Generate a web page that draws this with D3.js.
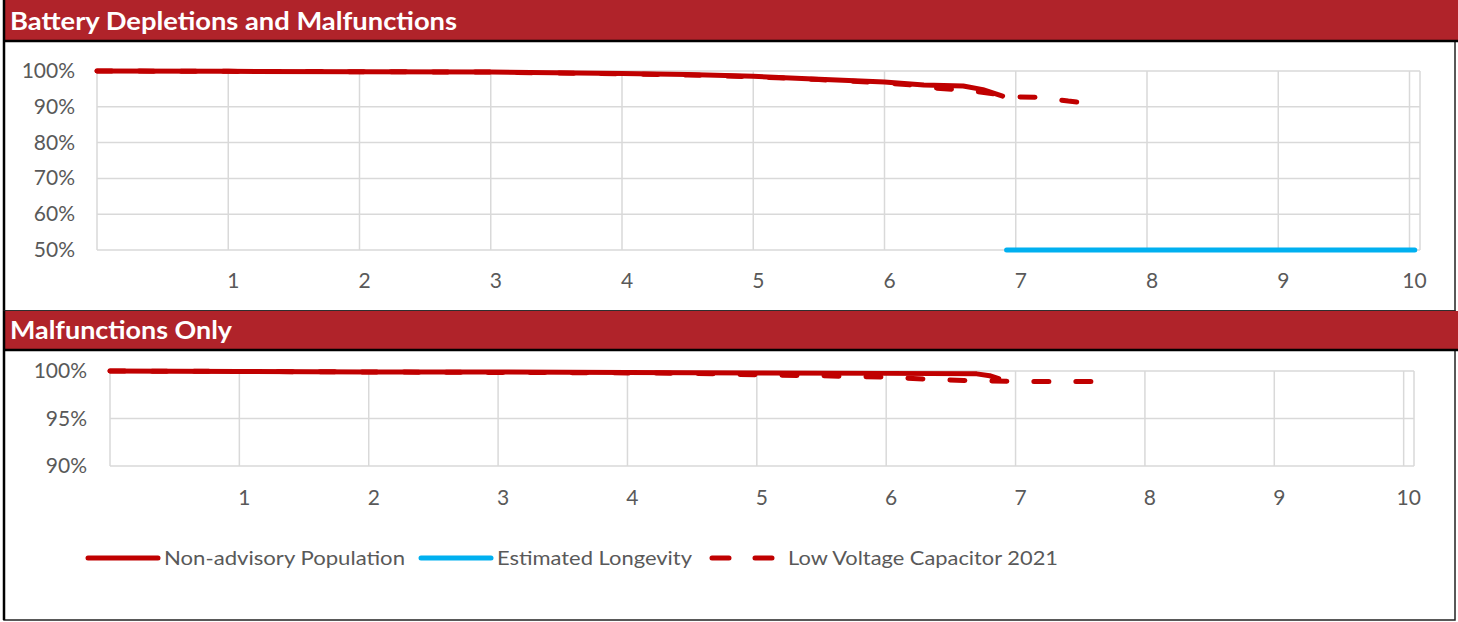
<!DOCTYPE html>
<html>
<head>
<meta charset="utf-8">
<script src="https://cdn.jsdelivr.net/npm/d3@7"></script>
<style>
  body { margin: 0; background: #fff; }
  svg { display: block; font-family: Lato, "Open Sans", sans-serif; }
</style>
</head>
<body>
<script>
// years since implant
var xTicks = [1, 2, 3, 4, 5, 6, 7, 8, 9, 10];

// panel 1: battery depletions and malfunctions (% survival)
var nonAdvisory1 = [[0, 100], [1, 99.9], [2, 99.8], [3, 99.7], [4, 99.3], [4.5, 99.0], [5, 98.5],
  [5.5, 97.7], [6, 96.9], [6.3, 96.1], [6.6, 95.8], [6.75, 94.8], [6.9, 93.0]];
var lvc1 = [[0, 100], [1, 99.9], [2, 99.8], [3, 99.7], [4, 99.2], [4.5, 98.9], [5, 98.4],
  [5.5, 97.6], [6, 96.7], [6.2, 96.1], [6.4, 95.2], [6.6, 94.7], [6.8, 93.8], [7.0, 92.8],
  [7.2, 92.6], [7.4, 91.6], [7.55, 91.0]];
var longevity1 = [[6.93, 50], [10.04, 50]];
var yTicks1 = [50, 60, 70, 80, 90, 100];

// panel 2: malfunctions only
var nonAdvisory2 = [[0, 100], [1, 99.95], [2, 99.9], [3, 99.9], [4, 99.85], [5, 99.8], [6, 99.75],
  [6.7, 99.7], [6.8, 99.5], [6.87, 99.2]];
var lvc2 = [[0, 100], [2, 99.9], [4, 99.8], [4.5, 99.75], [5, 99.6], [5.5, 99.5], [6, 99.35],
  [6.3, 99.15], [6.6, 99.0], [7, 98.9], [7.6, 98.9]];
var longevity2 = [[6.93, 50], [10.04, 50]];
var yTicks2 = [90, 95, 100];

var red = "#C00000", blue = "#00B0F0", grid = "#D9D9D9", txt = "#595959", hdr = "#B0232A";

var svg = d3.select("body").append("svg")
  .attr("width", 1458).attr("height", 622);

var panels = [
  { title: "Battery Depletions and Malfunctions", titleW: 447, top: 0, hdrH: 40, bottom: 311,
    x0: 97, x1: 1420, yTop: 71, yBot: 250, ticks: yTicks1, labX: 75, xLabY: 288,
    series: [nonAdvisory1, longevity1, lvc1] },
  { title: "Malfunctions Only", titleW: 222, top: 311, hdrH: 38, bottom: 620,
    x0: 110, x1: 1414, yTop: 371, yBot: 466, ticks: yTicks2, labX: 87, xLabY: 505,
    series: [nonAdvisory2, longevity2, lvc2] }
];

var styles = [
  { color: red, dash: null },
  { color: blue, dash: null },
  { color: red, dash: "15,27" }
];

panels.forEach(function(p, pi) {
  var g = svg.append("g");

  // frame
  g.append("rect").attr("x", 4).attr("y", p.top).attr("width", 1451).attr("height", p.bottom - p.top)
    .attr("fill", "#fff").attr("stroke", "#222").attr("stroke-width", 1.5);
  g.append("rect").attr("x", 4).attr("y", p.top).attr("width", 1454).attr("height", p.hdrH)
    .attr("fill", hdr);
  g.append("line").attr("x1", 4).attr("x2", 1458).attr("y1", p.top + p.hdrH + 1).attr("y2", p.top + p.hdrH + 1)
    .attr("stroke", "#000").attr("stroke-width", 2.5);
  g.append("line").attr("x1", 4).attr("x2", 4).attr("y1", p.top).attr("y2", p.bottom)
    .attr("stroke", "#000").attr("stroke-width", 2.5);
  g.append("text").attr("x", 10).attr("y", p.top + p.hdrH - 10)
    .attr("fill", "#fff").attr("font-weight", "bold").attr("font-size", 24)
    .attr("textLength", p.titleW).attr("lengthAdjust", "spacingAndGlyphs")
    .text(p.title);

  var x = d3.scaleLinear().domain([0, 10.08]).range([p.x0, p.x1]);
  var y = d3.scaleLinear().domain([p.ticks[0], p.ticks[p.ticks.length - 1]]).range([p.yBot, p.yTop]);

  // gridlines
  g.selectAll(".hg").data(p.ticks).enter().append("line")
    .attr("x1", p.x0).attr("x2", p.x1).attr("y1", function(d) { return y(d); }).attr("y2", function(d) { return y(d); })
    .attr("stroke", grid).attr("stroke-width", 1.5);
  g.selectAll(".vg").data([0].concat(xTicks)).enter().append("line")
    .attr("x1", function(d) { return x(d); }).attr("x2", function(d) { return x(d); })
    .attr("y1", p.yTop).attr("y2", p.yBot)
    .attr("stroke", grid).attr("stroke-width", 1.5);
  g.append("line").attr("x1", p.x1).attr("x2", p.x1).attr("y1", p.yTop).attr("y2", p.yBot)
    .attr("stroke", grid).attr("stroke-width", 1.5);

  // tick labels
  g.selectAll(".yl").data(p.ticks).enter().append("text")
    .attr("x", p.labX).attr("y", function(d) { return y(d) + 7; })
    .attr("text-anchor", "end").attr("fill", txt).attr("font-size", 21)
    .text(function(d) { return d + "%"; });
  g.selectAll(".xl").data(xTicks).enter().append("text")
    .attr("x", function(d) { return x(d) + 5; }).attr("y", p.xLabY)
    .attr("text-anchor", "middle").attr("fill", txt).attr("font-size", 21)
    .text(function(d) { return d; });

  // clip to plot
  var cid = "clip" + pi;
  svg.append("clipPath").attr("id", cid).append("rect")
    .attr("x", p.x0 - 10).attr("y", p.yTop - 10).attr("width", p.x1 - p.x0 + 20).attr("height", p.yBot - p.yTop + 13);

  var line = d3.line().x(function(d) { return x(d[0]); }).y(function(d) { return y(d[1]); });

  p.series.forEach(function(s, si) {
    var vis = s.filter(function(d) { return d[1] >= y.domain()[0]; });
    if (!vis.length) return;
    g.append("path").datum(vis)
      .attr("clip-path", "url(#" + cid + ")")
      .attr("d", line)
      .attr("fill", "none").attr("stroke", styles[si].color).attr("stroke-width", 5)
      .attr("stroke-linecap", "round").attr("stroke-linejoin", "round")
      .attr("stroke-dasharray", styles[si].dash);
  });
});

// legend
var legend = [
  { name: "Non-advisory Population", x: 88, w: 241 },
  { name: "Estimated Longevity", x: 421, w: 195 },
  { name: "Low Voltage Capacitor 2021", x: 712, w: 270 }
];
var lg = svg.append("g").selectAll("g").data(legend).enter().append("g");
lg.append("line")
  .attr("x1", function(d) { return d.x; }).attr("x2", function(d) { return d.x + 70; })
  .attr("y1", 558).attr("y2", 558)
  .attr("stroke", function(d, i) { return styles[i].color; }).attr("stroke-width", 5)
  .attr("stroke-linecap", "round")
  .attr("stroke-dasharray", function(d, i) { return i == 2 ? "17,26" : null; });
lg.append("text")
  .attr("x", function(d) { return d.x + 76; }).attr("y", 565)
  .attr("fill", txt).attr("font-size", 20)
  .attr("textLength", function(d) { return d.w; }).attr("lengthAdjust", "spacingAndGlyphs")
  .text(function(d) { return d.name; });
</script>
</body>
</html>
